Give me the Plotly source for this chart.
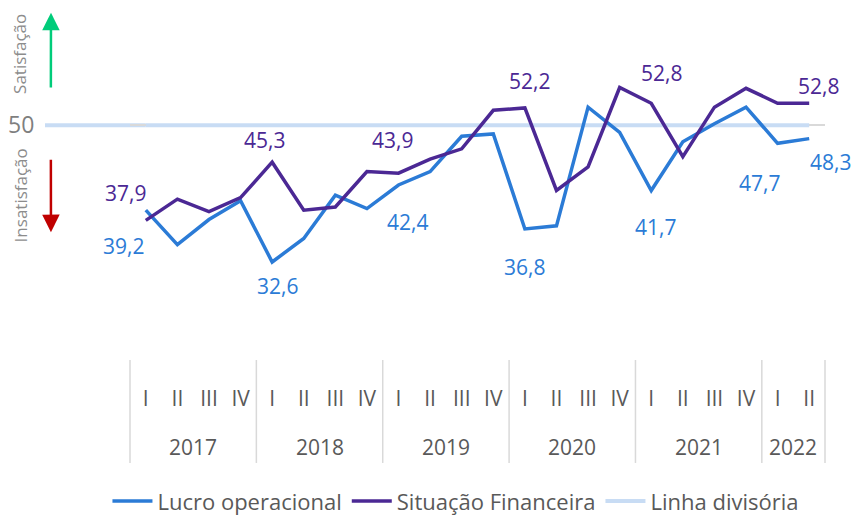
import plotly.graph_objects as go

years = ["2017"] * 4 + ["2018"] * 4 + ["2019"] * 4 + ["2020"] * 4 + ["2021"] * 4 + ["2022"] * 2
quarters = ["I", "II", "III", "IV"] * 5 + ["I", "II"]

lucro_operacional = [39.2, 34.8, 38.0, 40.4, 32.6, 35.6, 41.1, 39.4, 42.4, 44.1, 48.6, 48.9,
                     36.8, 37.2, 52.3, 49.1, 41.7, 47.9, 50.2, 52.3, 47.7, 48.3]
situacao_financeira = [37.9, 40.6, 39.0, 40.8, 45.3, 39.2, 39.6, 44.1, 43.9, 45.7, 47.0, 51.9,
                       52.2, 41.7, 44.7, 54.8, 52.8, 46.0, 52.3, 54.7, 52.8, 52.8]
linha_divisoria = [50, 50, 50, 50, 50, 50, 50, 50, 50, 50, 50, 50,
                   50, 50, 50, 50, 50, 50, 50, 50, 50, 50]

BLUE = "#2b7bd6"
PURPLE = "#4b2894"
LIGHT = "#c8dcf4"
GRAY = "#595959"
FONT = "Open Sans"

n = len(quarters)
xi = list(range(n))

fig = go.Figure()
# dividing line drawn first so the data lines sit on top of it
fig.add_trace(go.Scatter(x=xi, y=linha_divisoria, mode="lines", name="Linha divisória",
                         legendrank=3, line=dict(color=LIGHT, width=4)))
fig.add_trace(go.Scatter(x=xi, y=lucro_operacional, mode="lines", name="Lucro operacional",
                         legendrank=1, line=dict(color=BLUE, width=3.5)))
fig.add_trace(go.Scatter(x=xi, y=situacao_financeira, mode="lines", name="Situação Financeira",
                         legendrank=2, line=dict(color=PURPLE, width=3.5)))

# left extension of the dividing line (into the margin)
fig.add_shape(type="line", xref="paper", yref="y", x0=-0.1223, x1=0.5 / n,
              y0=linha_divisoria[0], y1=linha_divisoria[0], line=dict(color=LIGHT, width=4), layer="below")


def fmt(v):
    return f"{v:.1f}".replace(".", ",")


label_specs = [
    (situacao_financeira, PURPLE, 0, -20, 27),
    (lucro_operacional, BLUE, 0, -22, -36),
    (situacao_financeira, PURPLE, 4, -8, 22),
    (lucro_operacional, BLUE, 4, 5, -24),
    (situacao_financeira, PURPLE, 8, -6, 33),
    (lucro_operacional, BLUE, 8, 9, -37),
    (situacao_financeira, PURPLE, 12, 5, 27),
    (lucro_operacional, BLUE, 12, 0, -38),
    (situacao_financeira, PURPLE, 16, 10, 30),
    (lucro_operacional, BLUE, 16, 4, -37),
    (lucro_operacional, BLUE, 20, -18, -40),
    (situacao_financeira, PURPLE, 21, 9, 17),
    (lucro_operacional, BLUE, 21, 21, -23),
]
for series, color, i, dx, dy in label_specs:
    fig.add_annotation(x=i, y=series[i], xref="x", yref="y", text=fmt(series[i]),
                       showarrow=False, xshift=dx, yshift=dy,
                       font=dict(family=FONT, size=21, color=color))

# year labels and group dividers
groups = []
for i, yv in enumerate(years):
    if not groups or groups[-1][0] != yv:
        groups.append([yv, i, i])
    else:
        groups[-1][2] = i
for yv, a, b in groups:
    fig.add_annotation(x=(a + b) / 2, y=-0.245, xref="x", yref="paper", text=yv,
                       showarrow=False, yanchor="middle",
                       font=dict(family=FONT, size=21, color=GRAY))
bounds = [groups[0][1] - 0.5] + [b + 0.5 for _, _, b in groups]
for bd in bounds:
    px = (bd + 0.5) / n
    fig.add_shape(type="line", xref="paper", yref="paper", x0=px, x1=px, y0=0, y1=-0.29,
                  line=dict(color="#d9d9d9", width=1.5))

# side indicators
fig.add_annotation(xref="paper", yref="y", x=-0.1137, y=64.3, ax=-0.1137, ay=54.6,
                   axref="pixel", ayref="y", showarrow=True, arrowhead=2, arrowsize=1.4,
                   arrowwidth=2.5, arrowcolor="#00cc7a", text="")
fig.add_annotation(xref="paper", yref="y", x=-0.1137, y=36.4, ax=-0.1137, ay=45.8,
                   axref="pixel", ayref="y", showarrow=True, arrowhead=2, arrowsize=1.4,
                   arrowwidth=2.5, arrowcolor="#c00000", text="")
fig.add_annotation(xref="paper", yref="y", x=-0.158, y=59.1, text="Satisfação", textangle=-90,
                   xanchor="center", yanchor="middle", showarrow=False,
                   font=dict(family=FONT, size=17, color="#8c8c8c"))
fig.add_annotation(xref="paper", yref="y", x=-0.158, y=41.1, text="Insatisfação", textangle=-90,
                   xanchor="center", yanchor="middle", showarrow=False,
                   font=dict(family=FONT, size=17, color="#8c8c8c"))

fig.update_layout(
    width=851, height=517,
    margin=dict(l=130, r=26, t=5, b=157, autoexpand=False),
    paper_bgcolor="white", plot_bgcolor="white",
    font=dict(family=FONT, color=GRAY),
    showlegend=True,
    legend=dict(orientation="h", x=0.469, xanchor="center", y=-0.398, yanchor="middle",
                traceorder="normal",
                font=dict(family=FONT, size=22, color=GRAY), itemwidth=40, tracegroupgap=0),
    xaxis=dict(range=[-0.5, n - 0.5], tickvals=xi, ticktext=quarters, automargin=False,
               showline=False, showgrid=False, zeroline=False,
               ticks="outside", ticklen=20, tickcolor="rgba(0,0,0,0)",
               tickfont=dict(family=FONT, size=21, color=GRAY)),
    yaxis=dict(range=[20.13, 65.3], tickvals=[50], ticktext=["50"], showgrid=True,
               gridcolor="#d9d9d9", gridwidth=1.5, zeroline=False, showline=False,
               automargin=False, ticks="outside", ticklen=90, tickcolor="rgba(0,0,0,0)",
               tickfont=dict(family=FONT, size=23, color="#7f7f7f")),
)

fig.write_html("out.html", config={"displayModeBar": False},
               post_script="document.body.style.margin='0';")
